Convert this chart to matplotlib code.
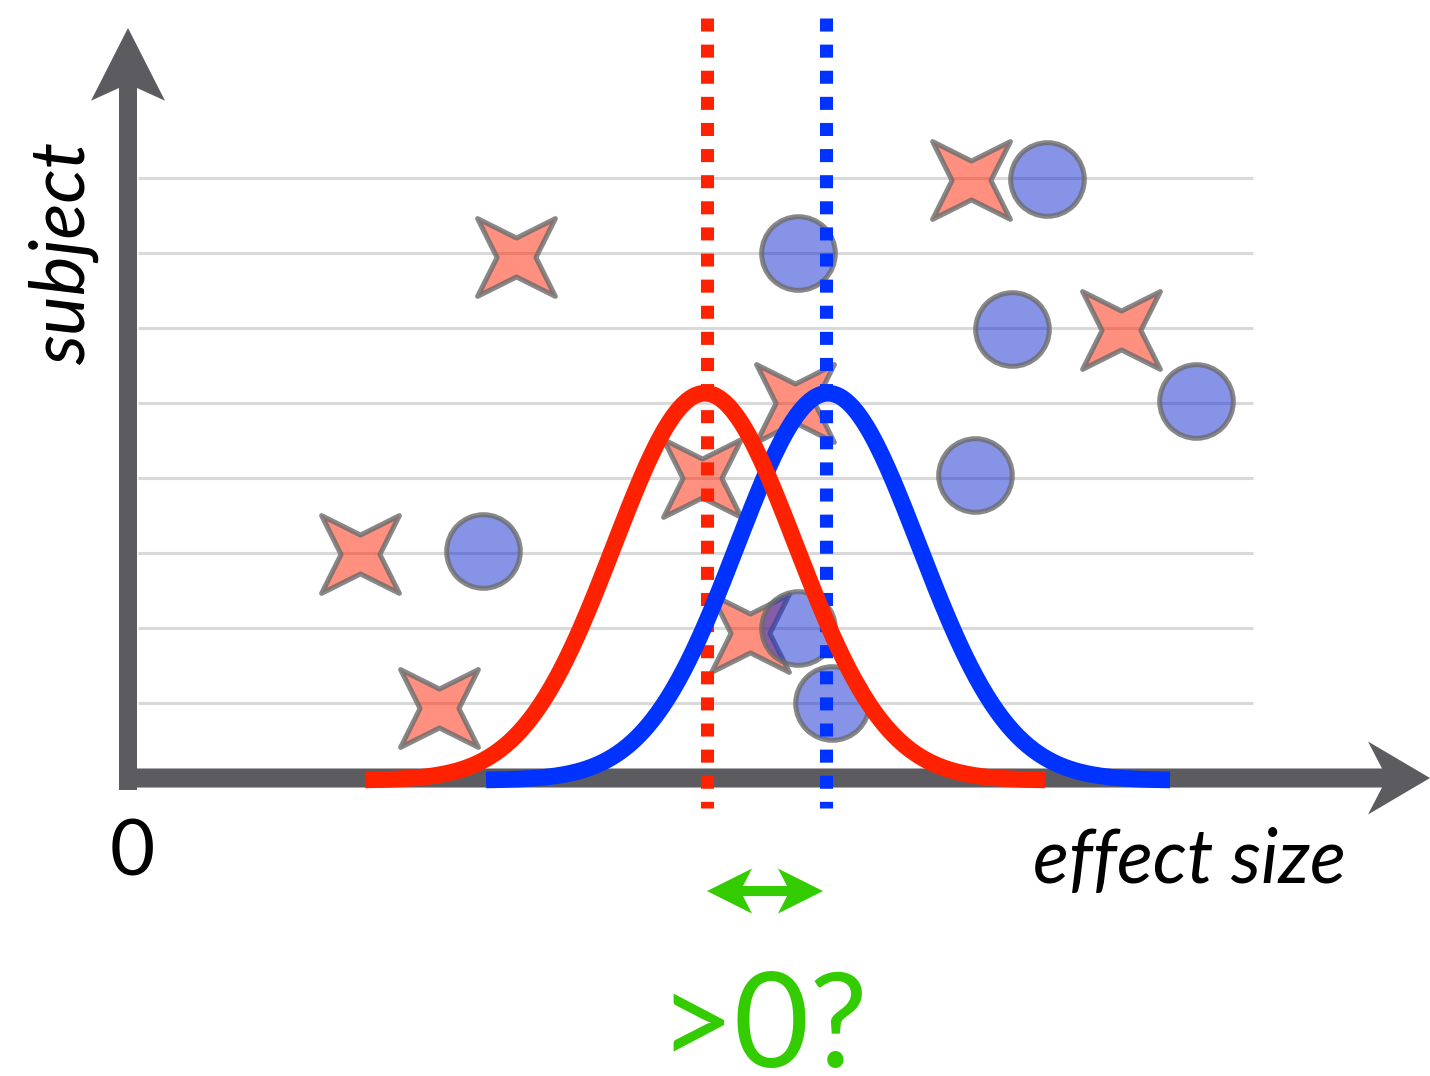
import numpy as np
import matplotlib
matplotlib.use("Agg")
import matplotlib.pyplot as plt
from matplotlib.path import Path
from matplotlib.patches import Polygon

# ---------------- data ----------------
subjects = [1, 2, 3, 4, 5, 6, 7, 8]
group_a_effect = [3.11, 6.22, 2.32, 5.74, 6.67, 9.93, 3.88, 8.43]   # red stars
group_a_subject = [0.93, 1.93, 2.99, 4.00, 5.00, 5.97, 6.95, 7.97]
group_b_effect = [7.04, 6.70, 3.55, 8.47, 10.68, 8.84, 6.70, 9.19]  # blue circles
group_b_subject = [1.00, 2.00, 3.03, 4.04, 5.03, 5.99, 7.00, 7.99]

dist_means = [5.77, 7.00]          # red, blue
dist_sds = [0.91, 0.91]
dist_peak = [5.16, 5.16]
dist_halfspan = [3.40, 3.42]

labels = {"y": "subject", "origin": "0", "x": "effect size", "question": ">0?"}

RED = "#FF2200"
BLUE = "#0033FF"
GREEN = "#33CC00"
AXIS = "#5C5C60"
GRID = "#D9D9D9"

plt.rcParams["font.family"] = ["Lato", "DejaVu Sans"]

fig = plt.figure(figsize=(14.3, 10.76), dpi=100)
ax = fig.add_axes([0, 0, 1, 1])
ax.set_xlim(-1.28, 13.02)
ax.set_ylim(-3.973, 10.373)
ax.axis("off")

# gridlines
for s in subjects:
    ax.plot([0.10, 11.25], [s, s], color=GRID, lw=2.2, zorder=1, solid_capstyle="butt")

# axes arrows (drawn as polygons)
yax = [(-0.09, -0.16), (0.09, -0.16), (0.09, 9.20), (0.37, 9.03), (0.0, 10.0),
       (-0.37, 9.03), (-0.09, 9.20)]
ax.add_patch(Polygon(yax, closed=True, facecolor=AXIS, edgecolor="none", zorder=2))
xax = [(-0.08, -0.127), (12.54, -0.127), (12.40, -0.487), (13.02, 0.0),
       (12.40, 0.487), (12.54, 0.127), (-0.08, 0.127)]
ax.add_patch(Polygon(xax, closed=True, facecolor=AXIS, edgecolor="none", zorder=2))

# markers
r = 0.5
star_path = Path([(-1, 1), (0, r), (1, 1), (r, 0), (1, -1), (0, -r), (-1, -1), (-r, 0), (-1, 1)],
                 [Path.MOVETO] + [Path.LINETO] * 7 + [Path.CLOSEPOLY])
ax.plot(group_a_effect, group_a_subject, linestyle="none", marker=star_path, markersize=56,
        markerfacecolor=(1.0, 34 / 255, 0.0, 0.5), markeredgecolor=(0.42, 0.42, 0.42, 0.8),
        markeredgewidth=3.6, zorder=3)
ax.plot(group_b_effect, group_b_subject, linestyle="none", marker="o", markersize=53,
        markerfacecolor=(17 / 255, 41 / 255, 209 / 255, 0.5), markeredgecolor=(0.42, 0.42, 0.42, 0.8),
        markeredgewidth=3.6, zorder=4)

# dotted mean lines
for m, c in zip(dist_means, [RED, BLUE]):
    ax.plot([m + 0.02, m + 0.02] if c == RED else [m - 0.02, m - 0.02], [10.13, -0.40],
            color=c, lw=9.4, linestyle=(0, (1, 1)), dash_capstyle="butt", zorder=5)

# gaussian curves
for m, sd, pk, hs, c, z in zip(dist_means, dist_sds, dist_peak, dist_halfspan, [RED, BLUE], [7, 6]):
    xs = np.linspace(m - hs, m + hs, 400)
    ys = pk * np.exp(-0.5 * ((xs - m) / sd) ** 2) - 0.03
    ax.plot(xs, ys, color=c, lw=12, solid_capstyle="butt", zorder=z)

# green double arrow between means
x0, x1, ya = dist_means[0] + 0.02, dist_means[1] - 0.05, -1.507
hl, nl, hw, sw = 0.45, 0.36, 0.30, 0.067
garrow = [(x0, ya), (x0 + hl, ya + hw), (x0 + nl, ya + sw), (x1 - nl, ya + sw), (x1 - hl, ya + hw),
          (x1, ya), (x1 - hl, ya - hw), (x1 - nl, ya - sw), (x0 + nl, ya - sw), (x0 + hl, ya - hw)]
ax.add_patch(Polygon(garrow, closed=True, facecolor=GREEN, edgecolor="none", zorder=8))

# texts
ax.text(-0.64, 7.0, labels["y"], rotation=90, ha="center", va="center", fontsize=54,
        fontstyle="italic", color="black")
ax.text(0.04, -1.01, labels["origin"], ha="center", va="center", fontsize=56, color="black")
ax.text(10.61, -1.107, labels["x"], ha="center", va="center", fontsize=54,
        fontstyle="italic", color="black")
ax.text(6.35, -3.85, labels["question"], ha="center", va="baseline", fontsize=94, color=GREEN)

fig.savefig("out.png", dpi=100)
